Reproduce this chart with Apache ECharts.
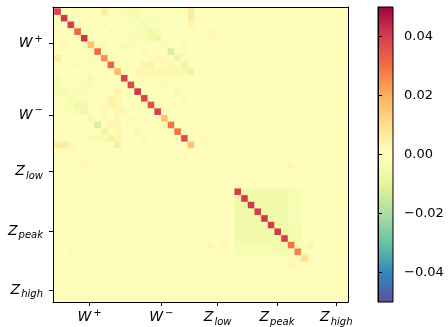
<!DOCTYPE html>
<html><head><meta charset="utf-8">
<script src="https://cdn.jsdelivr.net/npm/echarts@6/dist/echarts.min.js"></script>
<style>html,body{margin:0;padding:0;background:#fff}#c{width:448px;height:327px}</style>
</head><body><div id="c"></div>
<script>
// ---- data (values in units of 1e-3) ----
// bins: W+ 0..10, W- 11..21, Z_low 22..27, Z_peak 28..38, Z_high 39..44
const diagonal = [38,39,41,40,32,42,16,31,25,32,18, 40,38,41,39,36,40,16,29,29,37,16, 1,1,1,1,1,1, 40,41,41,40,41,40,41,40,29,27,10, 1,1,1,1,1,1];
// uniform-looking regions [rowFrom,rowTo,colFrom,colTo,value] (symmetric)
const regionValues = [
  [0,44,0,44,0.5],
  [0,21,0,21,-1],
  [2,5,12,16,-2],
  [10,10,13,20,3],
  [28,35,28,35,-5.5],
  [28,35,36,37,-3],
  [36,37,34,37,-4.5]
];
// individual off-diagonal cells [row,col,value] (symmetric)
const pairValues = [
  [0,1,-2],[1,2,-2],[2,3,-2],[3,4,-2],[4,5,-2],[5,6,-2],[6,7,-2],[7,8,-2],[8,9,-2],[9,10,-2],
  [1,4,2],[2,6,2],[3,8,2],[6,8,2],[1,8,6],[0,8,2],[2,9,1],[4,9,2],
  [11,12,-2],[12,13,-2],[13,14,-2],[14,15,-2],[15,16,-2],[16,17,-2],[17,18,-2],[18,19,-2],[19,20,-2],[20,21,-2],
  [13,19,3],[14,20,3],[12,17,2],[11,16,2],
  [0,11,-4],[1,12,-4],[2,13,-4],[3,14,-4],[4,15,-6],[5,16,-6],[6,17,-4],[7,18,-12],[8,19,-7],[9,20,-7],[10,21,-8],
  [1,11,-3],[1,13,-3],[5,15,-5],[4,16,-3],
  [0,21,3],[1,21,6],[2,21,6],[3,21,3],
  [9,14,4],[9,15,4],[9,18,3],[8,15,2],[8,16,2],[8,17,2],[6,20,2],[7,20,2],[8,20,2],
  [6,11,3],[6,12,2],[7,14,2],
  [24,4,2],[24,5,2],[24,36,3],[36,39,3],[26,36,2],[36,24,3],[3,37,2],
  [36,37,-4],[37,38,-3],[36,38,-2],[22,23,1],[23,24,1],[22,2,1],[23,20,2]
];
const tickLabels = ['{i|W}{sup|+}', '{i|W}{sup|−}', '{i|Z}{sub|low}', '{i|Z}{sub|peak}', '{i|Z}{sub|high}'];
const tickValues = [6.28, 17.03, 25.47, 34.36, 43.25];
const colorbarTicks = [-0.04, -0.02, 0, 0.02, 0.04];

// ---- build matrix ----
const N = diagonal.length;
const M = [];
for (let r = 0; r < N; r++) M.push(new Array(N).fill(0));
regionValues.forEach(([r0, r1, c0, c1, v]) => {
  for (let r = r0; r <= r1; r++) for (let c = c0; c <= c1; c++) { M[r][c] = v; M[c][r] = v; }
});
pairValues.forEach(([r, c, v]) => { M[r][c] = v; M[c][r] = v; });
diagonal.forEach((v, k) => { M[k][k] = v; });
const cells = [];
for (let r = 0; r < N; r++) for (let c = 0; c < N; c++) cells.push([c, r, M[r][c] * 1e-3]);

const spectralR = ['#5e4fa2','#3288bd','#66c2a5','#abdda4','#e6f598','#ffffbf','#fee08b','#fdae61','#f46d43','#d53e4f','#9e0142'];

function labelFor(v) {
  let best = 0;
  tickValues.forEach((t, k) => { if (Math.abs(t - v) < Math.abs(tickValues[best] - v)) best = k; });
  return tickLabels[best];
}
const rich = {
  i: { fontFamily: 'DejaVu Sans', fontStyle: 'italic', fontSize: 14, color: '#000', lineHeight: 19, verticalAlign: 'middle' },
  sup: { fontFamily: 'DejaVu Sans', fontSize: 10, color: '#000', lineHeight: 19, verticalAlign: 'top', padding: [0, 0, 0, 2] },
  sub: { fontFamily: 'DejaVu Sans', fontStyle: 'italic', fontSize: 10, color: '#000', lineHeight: 19, verticalAlign: 'bottom', padding: [0, 0, 0, 1] }
};
const axisCommon = {
  type: 'value', min: 0.8, max: 45, z: 10,
  splitLine: { show: false },
  axisLine: { show: true, onZero: false, lineStyle: { color: '#000', width: 1 } }
};

const chart = echarts.init(document.getElementById('c'), null, { renderer: 'canvas' });
chart.setOption({
  animation: false,
  backgroundColor: '#fff',
  grid: [
    { left: 53, top: 7, width: 295, height: 295, show: true, backgroundColor: '#ffffbf', borderWidth: 0 },
    { left: 378, top: 7, width: 15, height: 295, show: true, borderColor: '#000', borderWidth: 1,
      backgroundColor: new echarts.graphic.LinearGradient(0, 0, 0, 1, spectralR.slice().reverse().map((c, k) => ({ offset: k / 10, color: c }))) }
  ],
  xAxis: [
    Object.assign({}, axisCommon, { gridIndex: 0, position: 'bottom',
      axisTick: { show: true, customValues: tickValues, length: 4, lineStyle: { color: '#000' } },
      axisLabel: { show: true, customValues: tickValues, margin: 6, formatter: labelFor, rich: rich } }),
    Object.assign({}, axisCommon, { gridIndex: 0, position: 'top', axisTick: { show: false }, axisLabel: { show: false } }),
    { type: 'value', gridIndex: 1, show: false, min: 0, max: 1 }
  ],
  yAxis: [
    Object.assign({}, axisCommon, { gridIndex: 0, position: 'left', inverse: true,
      axisTick: { show: true, customValues: tickValues, length: 4, lineStyle: { color: '#000' } },
      axisLabel: { show: true, customValues: tickValues, margin: 10, formatter: labelFor, rich: rich } }),
    Object.assign({}, axisCommon, { gridIndex: 0, position: 'right', inverse: true, axisTick: { show: false }, axisLabel: { show: false } }),
    { type: 'value', gridIndex: 1, position: 'right', min: -0.05, max: 0.05, z: 10,
      splitLine: { show: false },
      axisLine: { show: true, lineStyle: { color: '#000', width: 1 } },
      axisTick: { show: true, customValues: colorbarTicks, length: 4, lineStyle: { color: '#000' } },
      axisLabel: { show: true, customValues: colorbarTicks, margin: 11, color: '#000', fontFamily: 'DejaVu Sans', fontSize: 13,
        formatter: v => v.toFixed(2).replace('-', '\u2212') } }
  ],
  visualMap: {
    type: 'continuous', show: false, min: -0.05, max: 0.05, dimension: 2, seriesIndex: 0,
    inRange: { color: spectralR }
  },
  series: [{
    type: 'custom', xAxisIndex: 0, yAxisIndex: 0, z: 2,
    data: cells,
    renderItem: function (params, api) {
      const c = api.value(0), r = api.value(1);
      const p0 = api.coord([c, r]);
      const p1 = api.coord([c + 1, r + 1]);
      const shape = echarts.graphic.clipRectByRect(
        { x: Math.min(p0[0], p1[0]), y: Math.min(p0[1], p1[1]), width: Math.abs(p1[0] - p0[0]), height: Math.abs(p1[1] - p0[1]) },
        { x: params.coordSys.x, y: params.coordSys.y, width: params.coordSys.width, height: params.coordSys.height });
      if (!shape) return;
      const col = api.visual('color');
      return { type: 'rect', shape: shape, style: { fill: col, stroke: col, lineWidth: 0.2 } };
    }
  }]
});
</script></body></html>
